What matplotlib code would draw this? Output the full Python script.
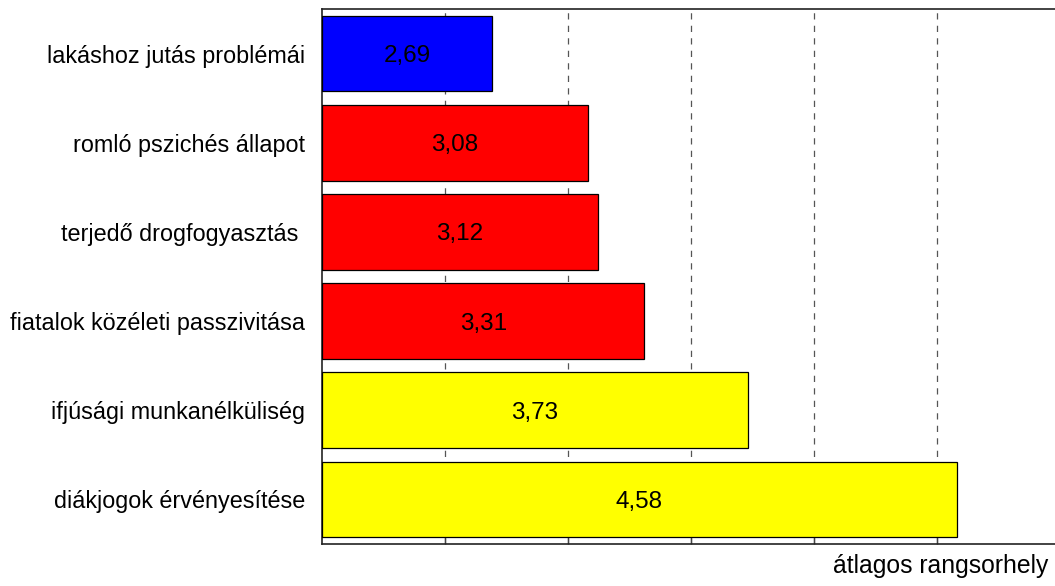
import matplotlib
matplotlib.use("Agg")
import matplotlib.pyplot as plt

# data (top to bottom)
categories = ["lakáshoz jutás problémái", "romló pszichés állapot",
              "terjedő drogfogyasztás ", "fiatalok közéleti passzivitása",
              "ifjúsági munkanélküliség", "diákjogok érvényesítése"]
values = [2.69, 3.08, 3.12, 3.31, 3.73, 4.58]
colors = ["#0000ff", "#ff0000", "#ff0000", "#ff0000", "#ffff00", "#ffff00"]
x_start = 2.0

plt.rcParams['font.family'] = ['Liberation Sans', 'DejaVu Sans']

fig = plt.figure(figsize=(10.55, 5.86), dpi=100)
ax = fig.add_axes([322 / 1055, 42 / 586, (1060 - 322) / 1055, (544 - 9) / 586])

pos = list(range(len(categories)))
widths = [v - x_start for v in values]
ax.barh(pos, widths, left=x_start, height=0.85, color=colors,
        edgecolor='black', linewidth=0.9, zorder=3)

# value labels in the middle of each bar
for p, v in zip(pos, values):
    ax.text((x_start + v) / 2, p, f"{v:.2f}".replace('.', ','),
            ha='center', va='center_baseline', fontsize=17.5, zorder=4)

ax.set_xlim(2.0, 5.0)
ax.set_ylim(-0.5, len(categories) - 0.5)
ax.invert_yaxis()

# dashed vertical grid
ax.set_xticks([2.5, 3.0, 3.5, 4.0, 4.5])
ax.xaxis.grid(True, linestyle=(0, (5, 5)), color='#555555', linewidth=0.9, zorder=0)
ax.tick_params(axis='x', direction='in', length=6, width=1.0, color='#444444',
               labelbottom=False)

ax.set_yticks(pos)
ax.set_yticklabels(categories, fontsize=16.8)
ax.tick_params(axis='y', length=0, pad=12)

for side in ['left', 'bottom', 'top']:
    ax.spines[side].set_color('#222222')
    ax.spines[side].set_linewidth(1.2)
ax.spines['right'].set_visible(False)

fig.text(1048 / 1055, 1 - 566 / 586, "átlagos rangsorhely", ha='right', va='center',
         fontsize=17.8)

fig.savefig("out.png", dpi=100)
